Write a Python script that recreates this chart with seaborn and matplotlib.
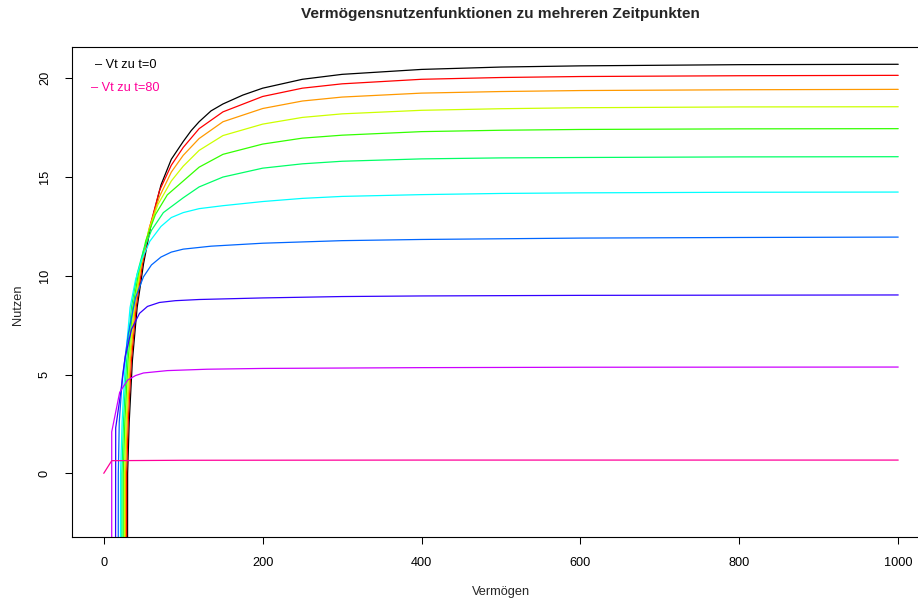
import seaborn as sns
import matplotlib.pyplot as plt
import pandas as pd

# Vermögensnutzenfunktionen V_t(W)
zeitpunkte = ["t=0", "t=8", "t=16", "t=24", "t=32", "t=40", "t=48", "t=56", "t=64", "t=72", "t=80"]
farben = ["#000000", "#FF0000", "#FF9900", "#CCFF00", "#33FF00", "#00FF66",
          "#00FFFF", "#0066FF", "#3300FF", "#CC00FF", "#FF0099"]

x_t0 = [29, 30, 32, 36, 42, 50, 60, 72, 85, 100, 110, 120, 135, 150, 175, 200, 250, 300, 400, 500, 600, 800, 1000]
y_t0 = [-40, 0.0, 2.6, 5.7, 8.4, 10.6, 12.7, 14.6, 15.9, 16.8, 17.35, 17.8, 18.35, 18.7, 19.15, 19.5, 19.95, 20.2, 20.45, 20.57, 20.63, 20.69, 20.71]

x_t8 = [27.7, 28.7, 30.7, 34.7, 40.7, 48.7, 58.7, 70, 85, 100, 120, 150, 200, 250, 300, 400, 500, 600, 800, 1000]
y_t8 = [-40, 0.0, 2.6, 5.7, 8.4, 10.6, 12.6, 14.3, 15.6, 16.5, 17.45, 18.3, 19.08, 19.5, 19.72, 19.95, 20.04, 20.09, 20.13, 20.15]

x_t16 = [26.4, 27.4, 29.4, 33.4, 39.4, 47, 57, 70, 85, 100, 120, 150, 200, 250, 300, 400, 500, 600, 800, 1000]
y_t16 = [-40, 0.0, 2.6, 5.7, 8.4, 10.5, 12.4, 14.0, 15.25, 16.1, 16.95, 17.8, 18.47, 18.85, 19.05, 19.25, 19.33, 19.38, 19.42, 19.44]

x_t24 = [25.2, 26.2, 28.2, 32.2, 38.2, 46, 56, 68, 85, 100, 120, 150, 200, 250, 300, 400, 500, 600, 800, 1000]
y_t24 = [-40, 0.0, 2.6, 5.7, 8.4, 10.4, 12.2, 13.6, 14.8, 15.55, 16.35, 17.1, 17.68, 18.02, 18.2, 18.38, 18.46, 18.51, 18.55, 18.56]

x_t32 = [23.5, 24.5, 26.5, 30.5, 36.5, 44, 53, 65, 80, 100, 120, 150, 200, 250, 300, 400, 500, 600, 800, 1000]
y_t32 = [-40, 0.0, 2.6, 5.7, 8.4, 10.2, 11.8, 13.1, 14.1, 14.8, 15.5, 16.15, 16.67, 16.97, 17.12, 17.3, 17.37, 17.41, 17.44, 17.45]

x_t40 = [21.8, 22.8, 24.8, 28.8, 34.8, 42, 50, 60, 75, 100, 120, 150, 200, 250, 300, 400, 500, 600, 800, 1000]
y_t40 = [-40, 0.0, 2.6, 5.7, 8.4, 10.1, 11.3, 12.3, 13.2, 13.95, 14.5, 15.0, 15.45, 15.67, 15.8, 15.92, 15.97, 15.99, 16.02, 16.03]

x_t48 = [20.1, 21.1, 23.1, 27.1, 33.1, 40, 48, 58, 72, 85, 100, 120, 150, 200, 250, 300, 400, 500, 600, 800, 1000]
y_t48 = [-40, 0.0, 2.6, 5.7, 8.4, 9.8, 10.85, 11.75, 12.5, 12.95, 13.2, 13.4, 13.55, 13.76, 13.92, 14.02, 14.11, 14.17, 14.2, 14.23, 14.24]

x_t56 = [17.6, 18.3, 19.5, 23.5, 31, 40, 50, 60, 72, 85, 100, 135, 200, 300, 400, 600, 800, 1000]
y_t56 = [-40, 0.0, 2.6, 4.9, 7.1, 8.9, 9.95, 10.55, 10.95, 11.2, 11.35, 11.5, 11.65, 11.78, 11.84, 11.91, 11.94, 11.96]

x_t64 = [14, 15, 21, 27, 35, 45, 55, 70, 90, 120, 200, 300, 400, 600, 800, 1000]
y_t64 = [-40, 2.3, 4.0, 5.9, 7.3, 8.1, 8.45, 8.65, 8.74, 8.8, 8.88, 8.95, 8.98, 9.01, 9.02, 9.03]

x_t72 = [9.9, 10, 20, 30, 40, 50, 80, 130, 200, 400, 600, 1000]
y_t72 = [-40, 2.1, 4.1, 4.72, 4.95, 5.08, 5.2, 5.27, 5.31, 5.35, 5.37, 5.38]

x_t80 = [0, 10, 100, 400, 1000]
y_t80 = [0.0, 0.64, 0.66, 0.67, 0.67]

alle_x = [x_t0, x_t8, x_t16, x_t24, x_t32, x_t40, x_t48, x_t56, x_t64, x_t72, x_t80]
alle_y = [y_t0, y_t8, y_t16, y_t24, y_t32, y_t40, y_t48, y_t56, y_t64, y_t72, y_t80]

# long format for seaborn
frames = []
for t, xs, ys in zip(zeitpunkte, alle_x, alle_y):
    frames.append(pd.DataFrame({"Vermögen": xs, "Nutzen": ys, "t": t}))
df = pd.concat(frames, ignore_index=True)

sns.set_style("ticks")
plt.rcParams["font.family"] = ["Liberation Sans", "DejaVu Sans"]

fig = plt.figure(figsize=(9.18, 6.04), dpi=100)
# R-style plot region (right edge runs past the picture)
ax = fig.add_axes([72 / 918, 66.7 / 604, 858 / 918, 490.6 / 604])

sns.lineplot(
    data=df, x="Vermögen", y="Nutzen", hue="t",
    hue_order=zeitpunkte, palette=dict(zip(zeitpunkte, farben)),
    sort=False, estimator=None, legend=False, linewidth=0.9, ax=ax
)

ax.set_xlim(-40, 1040)
ax.set_ylim(-3.24, 21.6)
ax.set_xticks([0, 200, 400, 600, 800, 1000])
ax.set_yticks([0, 5, 10, 15, 20])
ax.set_xlabel("")
ax.set_ylabel("")

for side in ["left", "right", "top", "bottom"]:
    ax.spines[side].set_visible(True)
    ax.spines[side].set_linewidth(0.8)
    ax.spines[side].set_color("black")

ax.tick_params(axis="both", direction="out", length=5.2, width=0.75,
               color="black", labelsize=9.2, labelcolor="black")
ax.tick_params(axis="x", pad=9)
ax.tick_params(axis="y", pad=10, labelrotation=90)
for lab in ax.get_yticklabels():
    lab.set_va("center")

# legend as plain coloured text (like R's legend with bty="n")
fig.text(95 / 918, 1 - 65 / 604, "– Vt zu t=0", fontsize=9.2, color="black",
         va="center", ha="left")
fig.text(91 / 918, 1 - 87.7 / 604, "– Vt zu t=80", fontsize=9.2, color="#FF0099",
         va="center", ha="left")

fig.text(500.5 / 918, 1 - 14 / 604, "Vermögensnutzenfunktionen zu mehreren Zeitpunkten",
         fontsize=11.1, fontweight="bold", ha="center", va="center")
fig.text(501 / 918, 1 - 592 / 604, "Vermögen", fontsize=9.2, ha="center", va="center")
fig.text(17.5 / 918, 1 - 305 / 604, "Nutzen", fontsize=9.2, rotation=90,
         ha="center", va="center")

fig.savefig("out.png", dpi=100)
